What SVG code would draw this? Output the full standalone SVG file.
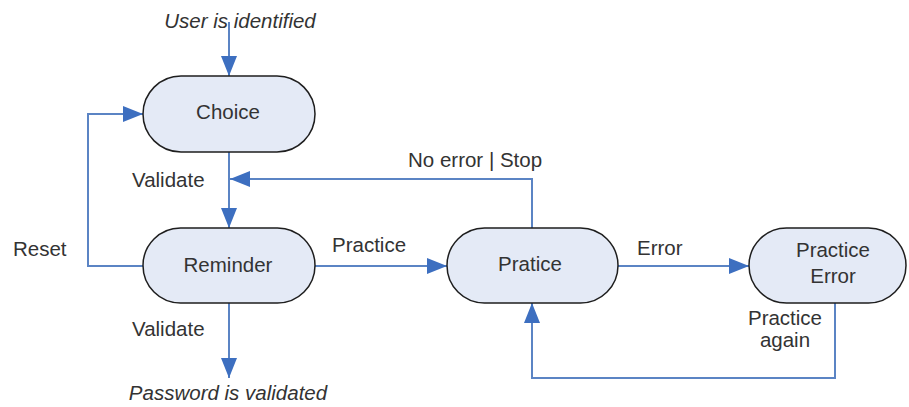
<svg xmlns="http://www.w3.org/2000/svg" width="909" height="407" viewBox="0 0 909 407">
<defs>
<style>
.node rect{fill:#e4eaf6;stroke:#1e1e1e;stroke-width:1.5}
text{font-family:"Liberation Sans",Arial,sans-serif;font-size:20.5px;fill:#333}
.c{text-anchor:middle}
.i{font-style:italic}
.edge{fill:none;stroke:#5b84c4;stroke-width:2}
</style>
<marker id="arr" markerWidth="20" markerHeight="16" refX="20" refY="8" orient="auto" markerUnits="userSpaceOnUse" viewBox="0 0 20 16">
<path d="M0,0 L20,8 L0,16 z" fill="#3d6fc0"/>
</marker>
</defs>
<rect width="909" height="407" fill="#fff"/>
<g id="connectors">
<path class="edge" d="M229,22 V76" marker-end="url(#arr)"/>
<path class="edge" d="M229,152 V228" marker-end="url(#arr)"/>
<path class="edge" d="M143,266 H88 V114 H143" marker-end="url(#arr)"/>
<path class="edge" d="M532,228 V179 H230" marker-end="url(#arr)"/>
<path class="edge" d="M315,266 H447" marker-end="url(#arr)"/>
<path class="edge" d="M617,266 H749" marker-end="url(#arr)"/>
<path class="edge" d="M835,303 V378 H532 V303" marker-end="url(#arr)"/>
<path class="edge" d="M229,303 V378" marker-end="url(#arr)"/>
</g>
<g id="choice" class="node"><rect x="143" y="76" width="172" height="76" rx="38"/><text class="c" x="228" y="119">Choice</text></g>
<g id="reminder" class="node"><rect x="143" y="228" width="172" height="75" rx="37.5"/><text class="c" x="228" y="272">Reminder</text></g>
<g id="pratice" class="node"><rect x="447" y="228" width="171" height="75" rx="37.5"/><text class="c" x="530" y="271">Pratice</text></g>
<g id="practice-error" class="node"><rect x="749" y="228" width="157" height="75" rx="37.5"/><text class="c" x="833" y="257">Practice</text><text class="c" x="833" y="283">Error</text></g>
<g id="labels">
<text class="c i" x="240" y="28">User is identified</text>
<text x="132" y="187">Validate</text>
<text x="13" y="256">Reset</text>
<text x="408" y="167">No error | Stop</text>
<text x="332" y="252">Practice</text>
<text x="637" y="255">Error</text>
<text class="c" x="785" y="325">Practice</text>
<text class="c" x="785" y="347">again</text>
<text x="132" y="336">Validate</text>
<text class="c i" x="228" y="400">Password is validated</text>
</g>
</svg>
